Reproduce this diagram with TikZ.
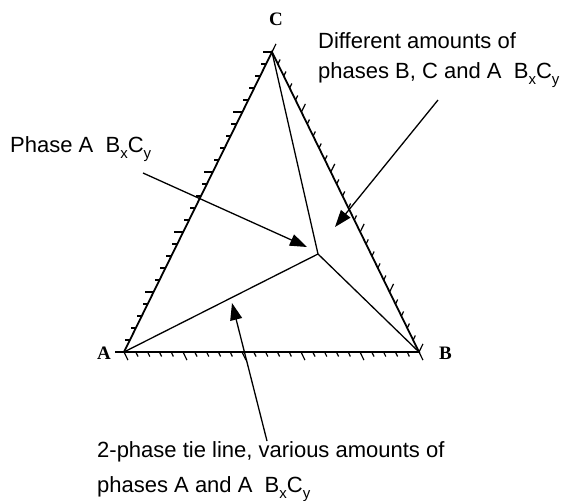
\documentclass[tikz,border=0pt]{standalone}
\usepackage{fontspec}
\setmainfont{Liberation Sans}
\newfontfamily\labfont{Liberation Serif}
\usetikzlibrary{arrows.meta,calc}
\newcommand\mysub[1]{\raisebox{-6pt}{\fontsize{15}{15}\selectfont #1}}
\begin{document}
\begin{tikzpicture}[x=1pt,y=-1pt,
  side/.style={line width=1.8pt},
  inner/.style={line width=1.3pt},
  tickmark/.style={line width=1.2pt},
  callout/.style={line width=1.3pt,-{Triangle[length=17pt,width=12pt]}},
  txt/.style={font=\fontsize{22}{26}\selectfont, inner sep=0pt, anchor=base west},
  vlab/.style={font=\labfont\bfseries\fontsize{19}{19}\selectfont, inner sep=0pt}]
\useasboundingbox (0,0) rectangle (574,501);
\coordinate (A) at (124,352);
\coordinate (B) at (419,352);
\coordinate (C) at (272,52);
\coordinate (P) at (318,254);
% triangle
\draw[side,line join=miter] (A) -- (B) -- (C) -- cycle;
% interior lines
\draw[inner] (A) -- (P);
\draw[inner] (B) -- (P);
\draw[inner] (C) -- (P);
% ticks
\foreach \i in {0,...,25}{
  \pgfmathsetmacro\len{mod(\i,5)==0 ? 9 : 5}
  \draw[tickmark] ($(A)!\i/25!(B)$) -- ++(0.44*\len,0.9*\len);
  \draw[tickmark] ($(A)!\i/25!(C)$) -- ++(-\len,0);
  \draw[tickmark] ($(B)!\i/25!(C)$) -- ++(0.44*\len,-0.9*\len);
}
% vertex labels
\node[vlab,anchor=base] (lc) at (276,25) {C};
\node[vlab,anchor=base east] (la) at (111,359) {A};
\node[vlab,anchor=base west] (lb) at (439,359) {B};
% texts
\node[txt] (t1) at (10,152) {Phase A\ \ B\mysub{x}C\mysub{y}};
\node[txt] (t2a) at (318,48) {Different amounts of};
\node[txt] (t2b) at (318,78) {phases B, C and A\ \ B\mysub{x}C\mysub{y}};
\node[txt] (t3a) at (97,457) {2-phase tie line, various amounts of};
\node[txt] (t3b) at (97,492) {phases A and A\ \ B\mysub{x}C\mysub{y}};
% callout arrows
\coordinate (s1) at (143,173);
\coordinate (e1) at (307,247);
\coordinate (s2) at (438,100);
\coordinate (e2) at (335,227);
\coordinate (s3) at (267,441);
\coordinate (e3) at (232,303);
\draw[callout] (s1) -- (e1);
\draw[callout] (s2) -- (e2);
\draw[callout] (s3) -- (e3);
\end{tikzpicture}
\end{document}
